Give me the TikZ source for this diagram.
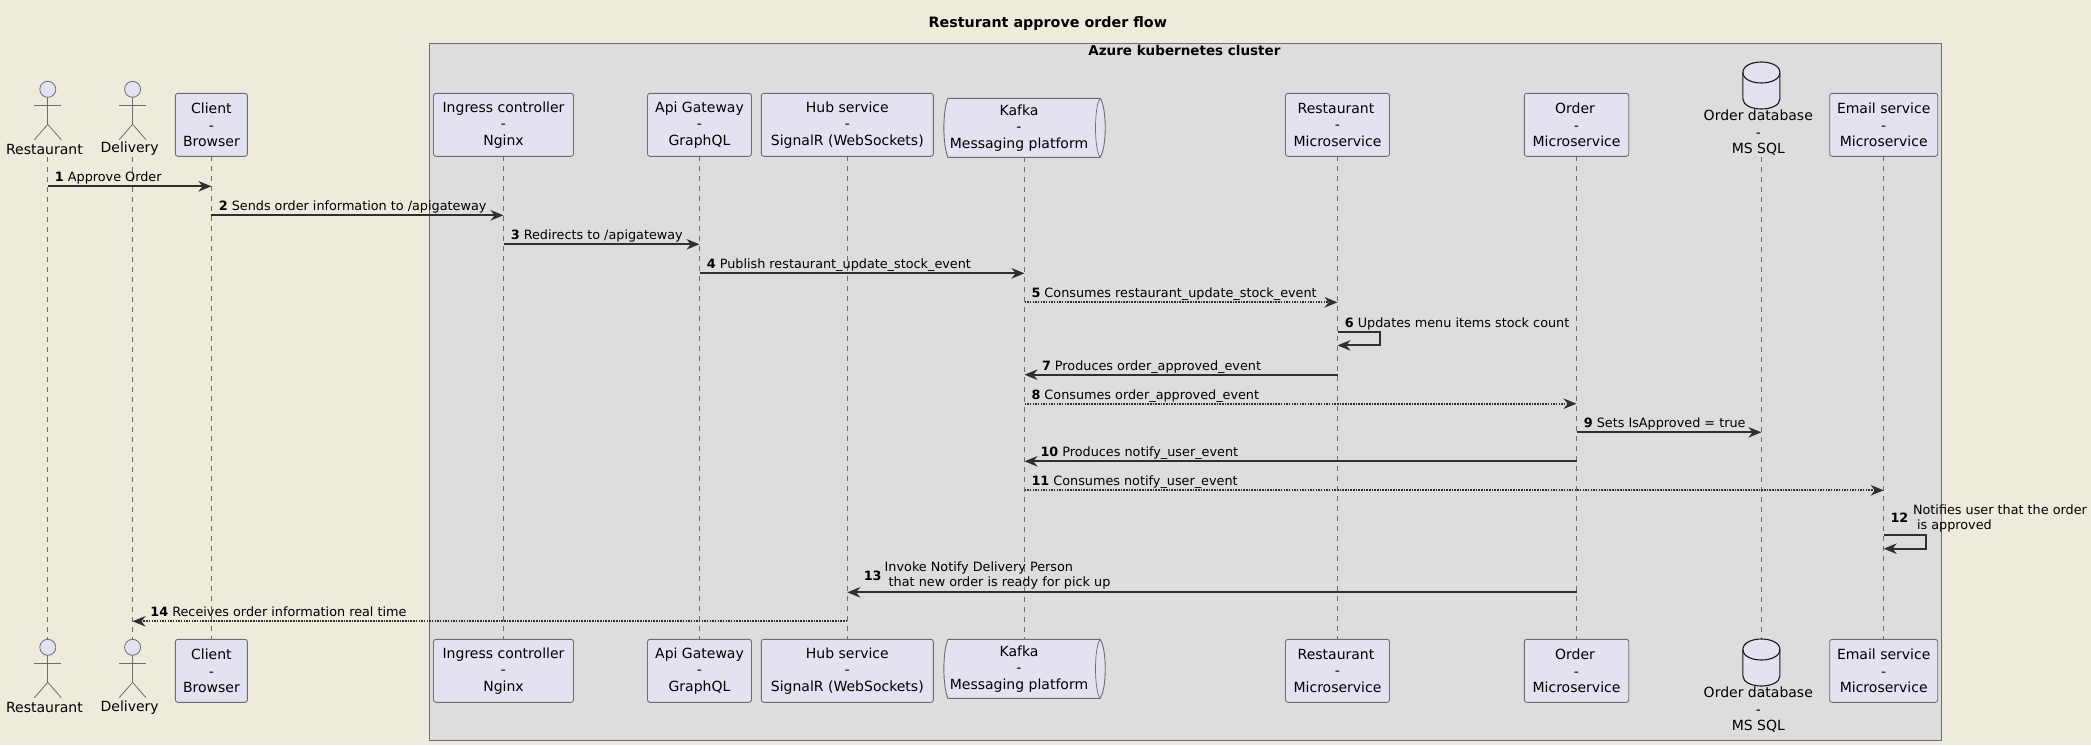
\documentclass[tikz,border=0pt]{standalone}
\usepackage{fontspec}
\setmainfont{DejaVu Sans}
\usetikzlibrary{arrows.meta,calc,shapes.geometric}
\definecolor{pagebg}{HTML}{EEEBDC}
\definecolor{boxbg}{HTML}{DDDDDD}
\definecolor{partbg}{HTML}{E2E2F0}
\definecolor{ink}{HTML}{181818}
\definecolor{edge}{HTML}{6C6C72}
\tikzset{
  x=1pt,y=-1pt,
  every node/.style={inner sep=0pt,outer sep=0pt,font=\fontsize{14}{16.5}\selectfont,text=black},
  part/.style={draw=edge,line width=0.9pt,fill=partbg,rounded corners=2.5pt,align=center,minimum height=63pt,anchor=north},
  lifeline/.style={draw=edge,line width=0.8pt,dash pattern=on 5pt off 5pt},
  actorline/.style={draw=edge,line width=0.8pt},
  msg/.style={draw=ink!90,line width=1.9pt,-{Stealth[length=13pt,width=10.5pt,inset=4.2pt]}},
  ret/.style={msg,dash pattern=on 1.6pt off 1.07pt},
  lbl/.style={anchor=base west,font=\fontsize{12.8}{15.3}\selectfont,align=left},
  lblm/.style={anchor=west,font=\fontsize{12.8}{15.3}\selectfont,align=left},
  num/.style={anchor=west,font=\fontsize{12.8}{15.3}\selectfont\bfseries},
}
\newcommand{\actorfig}[3]{% name, x, head-centre y
  \node[draw=edge,line width=0.8pt,fill=partbg,ellipse,minimum width=16pt,minimum height=16pt] (#1) at (#2,#3) {};
  \draw[actorline] (#1.south) -- ++(0,27) coordinate (#1hip);
  \draw[actorline] ($(#1.south)+(-13.5,8)$) -- ($(#1.south)+(13.5,8)$);
  \draw[actorline] (#1hip) -- ++(-13.5,15.5);
  \draw[actorline] (#1hip) -- ++(13.5,15.5);
}
\newcommand{\dbfig}[2]{% x, top y
  \draw[ink,line width=1.1pt,fill=partbg] (#1-18.5,#2+10.5) -- (#1-18.5,#2+37)
    .. controls (#1-18.5,#2+43.5) and (#1-9,#2+47) .. (#1,#2+47)
    .. controls (#1+9,#2+47) and (#1+18.5,#2+43.5) .. (#1+18.5,#2+37)
    -- (#1+18.5,#2+10.5)
    .. controls (#1+18.5,#2+3.5) and (#1+9,#2) .. (#1,#2)
    .. controls (#1-9,#2) and (#1-18.5,#2+3.5) .. (#1-18.5,#2+10.5) -- cycle;
  \draw[ink,line width=1.1pt] (#1-18.5,#2+10.5)
    .. controls (#1-18.5,#2+17.5) and (#1-9,#2+21) .. (#1,#2+21)
    .. controls (#1+9,#2+21) and (#1+18.5,#2+17.5) .. (#1+18.5,#2+10.5);
}
\newcommand{\kafkafig}[1]{% top y
  \draw[edge,line width=0.9pt,fill=partbg] (948,#1)
    .. controls (942.5,#1+12) and (942.5,#1+47) .. (948,#1+59)
    -- (1100,#1+59)
    .. controls (1107,#1+50) and (1107,#1+9) .. (1100,#1) -- cycle;
  \draw[edge,line width=0.7pt] (1100,#1)
    .. controls (1094,#1+9) and (1094,#1+50) .. (1100,#1+59);
}
\begin{document}
\begin{tikzpicture}
\useasboundingbox[fill=pagebg] (0,0) rectangle (2091,745);

\node[font=\fontsize{14.3}{16}\selectfont\bfseries] (title) at (1047.8,23.6) {Resturant approve order flow};
\draw[draw=edge,line width=0.9pt,fill=boxbg] (429.5,43.3) rectangle (1941.6,740.3);
\node[font=\fontsize{13.5}{15}\selectfont\bfseries] (cluster) at (1184.4,50.7) {Azure kubernetes cluster};

% message rows
\foreach \n/\y in {1/186.3,2/215.3,3/244.3,4/273.3,5/302.3,6/331.7,7/374.7,8/403.7,9/432.3,10/461.3,11/490.3,12/535,13/592.3,14/621.3}
  \coordinate (m\n) at (0,\y);

% named anchors of lifelines without a box
\coordinate (dbT) at (1761.4,157);
\coordinate (dbB) at (1761.4,639);

% top participants
\actorfig{restT}{47.8}{89.3}
\actorfig{delT}{132.6}{89.3}
\node[part,minimum width=72pt] (clientT) at (211.4,93.3) {Client\\-\\Browser};
\node[part,minimum width=140pt] (ingT) at (503.5,93.3) {Ingress controller\\-\\Nginx};
\node[part,minimum width=104pt] (apiT) at (699.5,93.3) {Api Gateway\\-\\GraphQL};
\node[part,minimum width=172pt] (hubT) at (847.3,93.3) {Hub service\\-\\SignalR (WebSockets)};
\node[minimum width=161pt,minimum height=59pt,anchor=north] (kafT) at (1024.5,98.3) {};
\node[part,minimum width=104pt] (rmsT) at (1337.5,93.3) {Restaurant\hspace*{3pt}\\-\\Microservice};
\node[part,minimum width=104.4pt] (omsT) at (1576.5,93.3) {Order\hspace*{3pt}\\-\\Microservice};
\node[part,minimum width=108pt] (emsT) at (1883.7,93.3) {Email service\\-\\Microservice};

% bottom participants
\actorfig{restB}{47.8}{647.3}
\actorfig{delB}{132.6}{647.3}
\node[part,minimum width=72pt] (clientB) at (211.4,639.3) {Client\\-\\Browser};
\node[part,minimum width=140pt] (ingB) at (503.5,639.3) {Ingress controller\\-\\Nginx};
\node[part,minimum width=104pt] (apiB) at (699.5,639.3) {Api Gateway\\-\\GraphQL};
\node[part,minimum width=172pt] (hubB) at (847.3,639.3) {Hub service\\-\\SignalR (WebSockets)};
\node[minimum width=161pt,minimum height=59pt,anchor=north] (kafB) at (1024.5,639.3) {};
\node[part,minimum width=104pt] (rmsB) at (1337.5,639.3) {Restaurant\hspace*{3pt}\\-\\Microservice};
\node[part,minimum width=104.4pt] (omsB) at (1576.5,639.3) {Order\hspace*{3pt}\\-\\Microservice};
\node[part,minimum width=108pt] (emsB) at (1883.7,639.3) {Email service\\-\\Microservice};

% lifelines
\foreach \a in {rest,del} \draw[lifeline] (\a T |- 0,157) -- (\a B |- 0,639);
\foreach \a in {client,ing,api,hub,kaf,rms,oms,ems} \draw[lifeline] (\a T.south) -- (\a B.north);
\draw[lifeline] (dbT) -- (dbB);

% kafka and database figures
\kafkafig{98.3}
\kafkafig{639.3}
\node[align=center] (kafTl) at (1019,127.8) {Kafka\\-\\Messaging platform};
\node[align=center] (kafBl) at (1019,668.8) {Kafka\\-\\Messaging platform};
\dbfig{1761.4}{62}
\dbfig{1761.4}{639}
\node[align=center,anchor=north] (dbTl) at (1758.3,110) {Order database\\-\\MS SQL};
\node[align=center,anchor=north] (dbBl) at (1758.3,687.3) {Order database\\-\\MS SQL};
\node (restTl) at (44.4,149) {Restaurant};
\node (delTl) at (129.7,149) {Delivery};
\node (restBl) at (44.4,707.3) {Restaurant};
\node (delBl) at (129.7,707.3) {Delivery};

% messages
\draw[msg] (restT |- m1) -- (clientT |- m1);
\draw[msg] (clientT |- m2) -- (ingT |- m2);
\draw[msg] (ingT |- m3) -- (apiT |- m3);
\draw[msg] (apiT |- m4) -- (kafT |- m4);
\draw[ret] (kafT |- m5) -- (rmsT |- m5);
\draw[msg] (rmsT |- m6) -- ++(42.5,0) -- ++(0,13.7) -- (rmsT |- 0,345.4);
\draw[msg] (rmsT |- m7) -- (kafT |- m7);
\draw[ret] (kafT |- m8) -- (omsT |- m8);
\draw[msg] (omsT |- m9) -- (dbT |- m9);
\draw[msg] (omsT |- m10) -- (kafT |- m10);
\draw[ret] (kafT |- m11) -- (emsT |- m11);
\draw[msg] (emsT |- m12) -- ++(42.5,0) -- ++(0,13.7) -- (emsT |- 0,548.7);
\draw[msg] (omsT |- m13) -- (hubT |- m13);
\draw[ret] (hubT |- m14) -- (delT |- m14);

% labels
\newcommand{\lab}[4]{% name, x of number, baseline y, number + text
  \node[lbl] (#1) at (#2,#3) {#4};}
\lab{t1}{54.9}{181.9}{\textbf{1} Approve Order}
\lab{t2}{218.8}{210.9}{\textbf{2} Sends order information to /apigateway}
\lab{t3}{510.8}{239.9}{\textbf{3} Redirects to /apigateway}
\lab{t4}{706.8}{268.9}{\textbf{4} Publish restaurant\_update\_stock\_event}
\lab{t5}{1031.5}{297.9}{\textbf{5} Consumes restaurant\_update\_stock\_event}
\lab{t6}{1344.8}{327.3}{\textbf{6} Updates menu items stock count}
\lab{t7}{1042}{370.3}{\textbf{7} Produces order\_approved\_event}
\lab{t8}{1031.5}{399.3}{\textbf{8} Consumes order\_approved\_event}
\lab{t9}{1583.8}{427.9}{\textbf{9} Sets IsApproved = true}
\lab{t10}{1040.5}{456.9}{\textbf{10} Produces notify\_user\_event}
\lab{t11}{1031.5}{485.9}{\textbf{11} Consumes notify\_user\_event}
\node[num] (n12) at (1890.5,518) {12};
\node[lblm] (t12) at (1913,518.7) {Notifies user that the order\\\hspace*{4pt}is approved};
\node[num] (n13) at (863.8,576) {13};
\node[lblm] (t13) at (884.7,575.7) {Invoke Notify Delivery Person\\\hspace*{4pt}that new order is ready for pick up};
\lab{t14}{150.4}{616.9}{\textbf{14} Receives order information real time}
\end{tikzpicture}
\end{document}
